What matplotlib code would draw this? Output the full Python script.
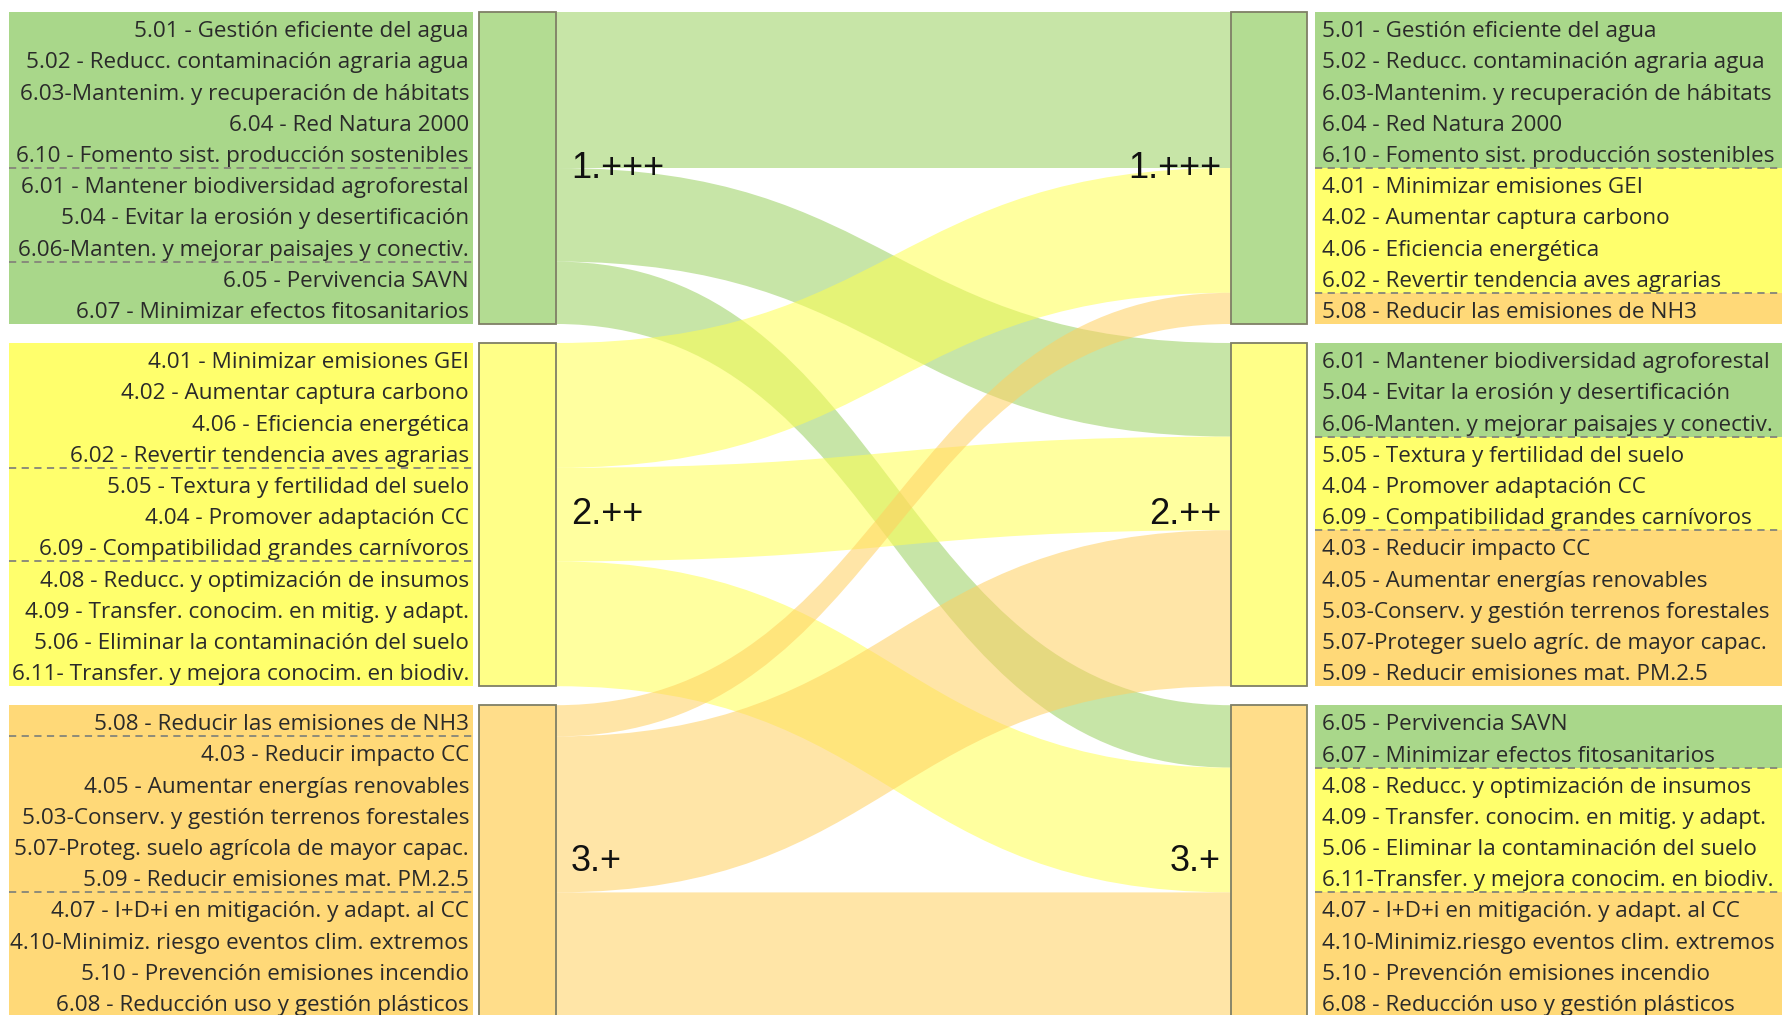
import matplotlib
matplotlib.use('Agg')
import matplotlib.pyplot as plt
from matplotlib.path import Path
from matplotlib.patches import PathPatch, Rectangle

# ---- data -------------------------------------------------------------
groups = ['1.+++', '2.++', '3.+']

# number of items going from left group i to right group j
counts = [[5, 3, 2],
          [4, 3, 4],
          [1, 5, 4]]

left_1 = ['5.01 - Gestión eficiente del agua',
          '5.02 - Reducc. contaminación agraria agua',
          '6.03-Mantenim. y recuperación de hábitats',
          '6.04 - Red Natura 2000',
          '6.10 - Fomento sist. producción sostenibles',
          '6.01 - Mantener biodiversidad agroforestal',
          '5.04 - Evitar la erosión y desertificación',
          '6.06-Manten. y mejorar paisajes y conectiv.',
          '6.05 - Pervivencia SAVN',
          '6.07 - Minimizar efectos fitosanitarios']
left_2 = ['4.01 - Minimizar emisiones GEI',
          '4.02 - Aumentar captura carbono',
          '4.06 - Eficiencia energética',
          '6.02 - Revertir tendencia aves agrarias',
          '5.05 - Textura y fertilidad del suelo',
          '4.04 - Promover adaptación CC',
          '6.09 - Compatibilidad grandes carnívoros',
          '4.08 - Reducc. y optimización de insumos',
          '4.09 - Transfer. conocim. en mitig. y adapt.',
          '5.06 - Eliminar la contaminación del suelo',
          '6.11- Transfer. y mejora conocim. en biodiv.']
left_3 = ['5.08 - Reducir las emisiones de NH3',
          '4.03 - Reducir impacto CC',
          '4.05 - Aumentar energías renovables',
          '5.03-Conserv. y gestión terrenos forestales',
          '5.07-Proteg. suelo agrícola de mayor capac.',
          '5.09 - Reducir emisiones mat. PM.2.5',
          '4.07 - I+D+i en mitigación. y adapt. al CC',
          '4.10-Minimiz. riesgo eventos clim. extremos',
          '5.10 - Prevención emisiones incendio',
          '6.08 - Reducción uso y gestión plásticos']

right_1 = ['5.01 - Gestión eficiente del agua',
           '5.02 - Reducc. contaminación agraria agua',
           '6.03-Mantenim. y recuperación de hábitats',
           '6.04 - Red Natura 2000',
           '6.10 - Fomento sist. producción sostenibles',
           '4.01 - Minimizar emisiones GEI',
           '4.02 - Aumentar captura carbono',
           '4.06 - Eficiencia energética',
           '6.02 - Revertir tendencia aves agrarias',
           '5.08 - Reducir las emisiones de NH3']
right_2 = ['6.01 - Mantener biodiversidad agroforestal',
           '5.04 - Evitar la erosión y desertificación',
           '6.06-Manten. y mejorar paisajes y conectiv.',
           '5.05 - Textura y fertilidad del suelo',
           '4.04 - Promover adaptación CC',
           '6.09 - Compatibilidad grandes carnívoros',
           '4.03 - Reducir impacto CC',
           '4.05 - Aumentar energías renovables',
           '5.03-Conserv. y gestión terrenos forestales',
           '5.07-Proteger suelo agríc. de mayor capac.',
           '5.09 - Reducir emisiones mat. PM.2.5']
right_3 = ['6.05 - Pervivencia SAVN',
           '6.07 - Minimizar efectos fitosanitarios',
           '4.08 - Reducc. y optimización de insumos',
           '4.09 - Transfer. conocim. en mitig. y adapt.',
           '5.06 - Eliminar la contaminación del suelo',
           '6.11-Transfer. y mejora conocim. en biodiv.',
           '4.07 - I+D+i en mitigación. y adapt. al CC',
           '4.10-Minimiz.riesgo eventos clim. extremos',
           '5.10 - Prevención emisiones incendio',
           '6.08 - Reducción uso y gestión plásticos']

left_labels = [left_1, left_2, left_3]
right_labels = [right_1, right_2, right_3]

# ---- style ------------------------------------------------------------
label_col = ['#a9d78a', '#ffff6c', '#ffd978']
node_col = ['#b3dc92', '#ffff88', '#ffdd8a']
flow_col = ['#99d060', '#ffff50', '#ffd060']
edge_col = '#7f7f66'
dash_col = '#85857a'
text_col = '#2a2a2a'

W, H = 1782, 1015
u = 31.2          # height of one item
gap = 19
top = 12
box_l = (9, 473)
node_l = (479, 556)
node_r = (1231, 1307)
box_r = (1315, 1785)

fig = plt.figure(figsize=(W / 100, H / 100), dpi=100)
ax = fig.add_axes([0, 0, 1, 1])
ax.set_xlim(0, W)
ax.set_ylim(H, 0)
ax.axis('off')

lsize = [sum(r) for r in counts]
rsize = [sum(counts[i][j] for i in range(3)) for j in range(3)]


def tops(sizes):
    out, y = [], top
    for s in sizes:
        out.append(y)
        y += s * u + gap
    return out


ltop = tops(lsize)
rtop = tops(rsize)

# ---- flows ------------------------------------------------------------
loff = list(ltop)
roff = list(rtop)
x0, x1 = node_l[1], node_r[0]
xm = (x0 + x1) / 2
for i in range(3):
    for j in range(3):
        h = counts[i][j] * u
        a, b = loff[i], roff[j]
        verts = [(x0, a), (xm, a), (xm, b), (x1, b),
                 (x1, b + h), (xm, b + h), (xm, a + h), (x0, a + h), (x0, a)]
        codes = [Path.MOVETO, Path.CURVE4, Path.CURVE4, Path.CURVE4,
                 Path.LINETO, Path.CURVE4, Path.CURVE4, Path.CURVE4, Path.CLOSEPOLY]
        ax.add_patch(PathPatch(Path(verts, codes), facecolor=flow_col[i],
                               edgecolor='none', alpha=0.55, zorder=1))
        loff[i] += h
        roff[j] += h

# ---- label boxes ------------------------------------------------------
font = 'Open Sans'
fs = 16.2
for i in range(3):
    # left: one colour per group, dashed line after each destination block
    y = ltop[i]
    ax.add_patch(Rectangle((box_l[0], y), box_l[1] - box_l[0], lsize[i] * u,
                           facecolor=label_col[i], edgecolor='none', zorder=2))
    for k, lab in enumerate(left_labels[i]):
        ax.text(box_l[1] - 4, y + (k + 0.5) * u + 4, lab, ha='right', va='center',
                fontsize=fs, family=font, color=text_col, zorder=4)
    acc = 0
    for j in range(2):
        acc += counts[i][j]
        ax.plot(box_l, [y + acc * u] * 2, color=dash_col, lw=1.3,
                dashes=(4, 3), zorder=3)

    # right: colour by source group
    y = rtop[i]
    acc = 0
    for s in range(3):
        n = counts[s][i]
        ax.add_patch(Rectangle((box_r[0], y + acc * u), box_r[1] - box_r[0], n * u,
                               facecolor=label_col[s], edgecolor='none', zorder=2))
        acc += n
        if s < 2:
            ax.plot(box_r, [y + acc * u] * 2, color=dash_col, lw=1.3,
                    dashes=(4, 3), zorder=3)
    for k, lab in enumerate(right_labels[i]):
        ax.text(box_r[0] + 7, y + (k + 0.5) * u + 4, lab, ha='left', va='center',
                fontsize=fs, family=font, color=text_col, zorder=4)

# ---- nodes ------------------------------------------------------------
for i in range(3):
    ax.add_patch(Rectangle((node_l[0], ltop[i]), node_l[1] - node_l[0], lsize[i] * u,
                           facecolor=node_col[i], edgecolor=edge_col, lw=1.3, zorder=3))
    ax.add_patch(Rectangle((node_r[0], rtop[i]), node_r[1] - node_r[0], rsize[i] * u,
                           facecolor=node_col[i], edgecolor=edge_col, lw=1.3, zorder=3))
    ax.text(node_l[1] + 15, ltop[i] + lsize[i] * u / 2, groups[i], ha='left',
            va='center', fontsize=26, family='Liberation Sans', color='#111111', zorder=5)
    ax.text(node_r[0] - 10, rtop[i] + rsize[i] * u / 2, groups[i], ha='right',
            va='center', fontsize=26, family='Liberation Sans', color='#111111', zorder=5)

fig.savefig('out.png', dpi=100)
